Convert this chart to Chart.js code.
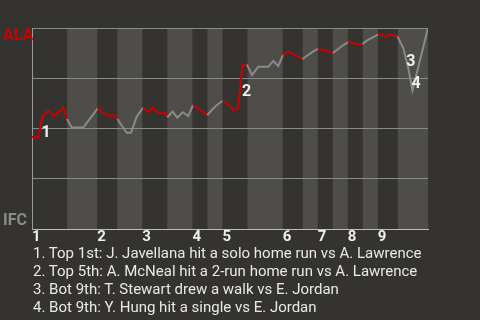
<!DOCTYPE html>
<html>
<head>
<meta charset="utf-8">
<script src="https://cdn.jsdelivr.net/npm/chart.js@4.4.0/dist/chart.umd.min.js"></script>
<style>
  html, body { margin: 0; padding: 0; background: #35332f; }
  #wrap { position: relative; width: 480px; height: 320px; overflow: hidden; }
  #chart { position: absolute; left: 0; top: 0; }
  #notes { position: absolute; left: 33px; top: 244px; font: 15px Roboto, sans-serif; line-height: 18px; color: #e8e8e8; white-space: nowrap; }
</style>
</head>
<body>
<div id="wrap">
  <canvas id="chart" width="480" height="320"></canvas>
  <div id="notes"></div>
</div>
<script>
// play position (x) and ALA win probability (y)
const playX = [0, 1.2, 2.13, 3.29, 4.39, 6.24, 6.98, 7.92, 10.23, 13.11,
  14.22, 15.56, 16.22, 17.02, 18.89, 19.75, 20.89, 22.14, 23.2, 24.08,
  25.19, 26.53, 26.99, 28.07, 28.98, 30.06, 31.18, 32.12, 33.37, 34.97,
  36.51, 37.16, 38.04, 39.5, 40.3, 41.09, 41.99, 42.89, 43.89, 45.14,
  47.14, 48.13, 49.13, 50.07, 51.13, 52.8, 53.96, 55.12, 56.35, 57.05,
  58.31, 59.11, 60.04, 61.78, 63.04, 64.09, 64.57, 65.93, 66.77, 68.08,
  69.02, 70.08, 70.62, 71.41, 72.07, 72.91, 74.07, 75.07, 75.9, 79];
const winProb = [0.458, 0.455, 0.564, 0.589, 0.562, 0.605, 0.547, 0.505, 0.505, 0.6,
  0.576, 0.564, 0.57, 0.547, 0.479, 0.479, 0.559, 0.604, 0.582, 0.604,
  0.579, 0.577, 0.556, 0.584, 0.554, 0.581, 0.562, 0.617, 0.596, 0.567,
  0.608, 0.622, 0.638, 0.613, 0.59, 0.602, 0.816, 0.818, 0.766, 0.807,
  0.807, 0.836, 0.811, 0.866, 0.882, 0.861, 0.846, 0.866, 0.887, 0.896,
  0.891, 0.884, 0.876, 0.909, 0.93, 0.925, 0.92, 0.92, 0.937, 0.955,
  0.967, 0.964, 0.959, 0.967, 0.964, 0.958, 0.9, 0.801, 0.689, 1.0];

// where each half inning starts (in plays), last value is the end
const halfStarts = [0, 7, 13, 17, 22, 27, 32, 35, 38, 43, 50, 54, 57, 60, 63, 66, 69, 73, 79];
const inningLabels = ["1", "2", "3", "4", "5", "6", "7", "8", "9"];

const eventLabels = ["1", "2", "3", "4"];
const eventX = [2.79, 42.79, 75.6, 76.6];
const eventY = [0.48, 0.682, 0.831, 0.721];
const eventNotes = [
  "1. Top 1st: J. Javellana hit a solo home run vs A. Lawrence",
  "2. Top 5th: A. McNeal hit a 2-run home run vs A. Lawrence",
  "3. Bot 9th: T. Stewart drew a walk vs E. Jordan",
  "4. Bot 9th: Y. Hung hit a single vs E. Jordan"
];

const awayTeam = "ALA";
const homeTeam = "IFC";

const RED = "#cc0000";
const GREY = "#8a8a8a";

const inningStarts = halfStarts.filter((v, i) => i % 2 === 0 && i < halfStarts.length - 1);

function halfIndex(x) {
    for (let i = 0; i < halfStarts.length - 1; i++) {
        if (x < halfStarts[i + 1]) return i;
    }
    return halfStarts.length - 2;
}

const bgPlugin = {
    id: "bands",
    beforeDraw(chart) {
        const { ctx, chartArea, scales } = chart;
        ctx.save();
        ctx.fillStyle = "#35332f";
        ctx.fillRect(0, 0, chart.width, chart.height);
        ctx.fillStyle = "#4e4d4a";
        for (let i = 1; i < halfStarts.length - 1; i += 2) {
            const x0 = scales.x.getPixelForValue(halfStarts[i]);
            const x1 = scales.x.getPixelForValue(halfStarts[i + 1]);
            ctx.fillRect(x0, chartArea.top, x1 - x0, chartArea.bottom - chartArea.top);
        }
        ctx.restore();
    },
    afterDatasetsDraw(chart) {
        const { ctx, chartArea, scales } = chart;
        ctx.save();
        ctx.font = "bold 16px Roboto, sans-serif";
        ctx.textAlign = "center";
        ctx.textBaseline = "middle";
        ctx.fillStyle = "#eeeeee";
        eventLabels.forEach((t, i) => {
            ctx.fillText(t, scales.x.getPixelForValue(eventX[i]), scales.y.getPixelForValue(eventY[i]));
        });
        ctx.font = "bold 16px Roboto, sans-serif";
        ctx.textAlign = "left";
        ctx.fillStyle = RED;
        ctx.textBaseline = "top";
        ctx.fillText(awayTeam, 3, chartArea.top);
        ctx.fillStyle = GREY;
        ctx.textBaseline = "bottom";
        ctx.fillText(homeTeam, 3, chartArea.bottom);
        ctx.restore();
    }
};

new Chart(document.getElementById("chart"), {
    type: "line",
    data: {
        datasets: [{
            data: playX.map((x, i) => ({ x: x, y: winProb[i] })),
            borderWidth: 2,
            borderColor: GREY,
            pointRadius: 0,
            tension: 0,
            segment: {
                borderColor: c => halfIndex((c.p0.parsed.x + c.p1.parsed.x) / 2) % 2 === 0 ? RED : GREY
            }
        }]
    },
    options: {
        responsive: false,
        animation: false,
        events: [],
        layout: { padding: { left: 32, right: 52, top: 28, bottom: 75 } },
        plugins: { legend: { display: false }, tooltip: { enabled: false } },
        scales: {
            x: {
                type: "linear",
                min: 0,
                max: 79,
                afterFit: s => { s.height = 16; },
                afterBuildTicks: s => { s.ticks = inningStarts.map(v => ({ value: v })); },
                grid: { display: false },
                border: { display: true, color: "#bdbdbd", width: 1 },
                ticks: {
                    align: "start",
                    padding: -9,
                    maxRotation: 0,
                    autoSkip: false,
                    color: "#eeeeee",
                    font: { family: "Roboto", size: 15, weight: "bold" },
                    callback: (v, i) => inningLabels[i]
                }
            },
            y: {
                min: 0,
                max: 1,
                afterFit: s => { s.width = 0; },
                ticks: { display: false, stepSize: 0.25 },
                grid: { color: "#8a8a8a", drawTicks: false, lineWidth: 1 },
                border: { display: true, color: "#9a9a9a", width: 1 }
            }
        }
    },
    plugins: [bgPlugin]
});

document.getElementById("notes").innerHTML = eventNotes.map(n => "<div>" + n + "</div>").join("");
</script>
</body>
</html>
